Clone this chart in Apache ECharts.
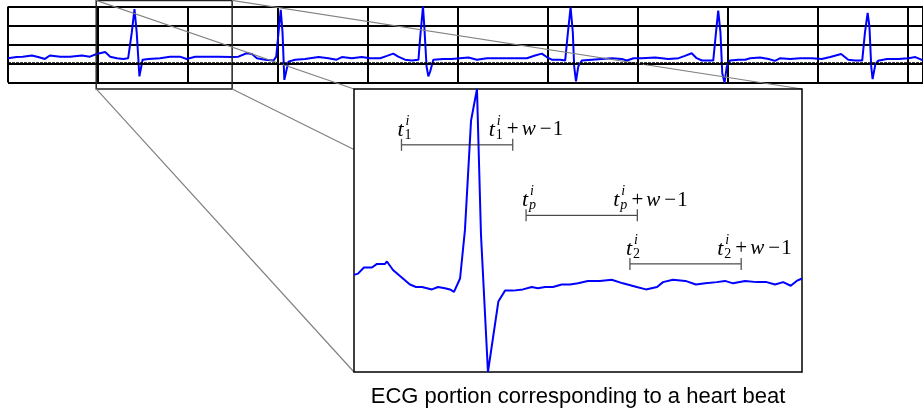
<!DOCTYPE html>
<html lang="en">
<head>
<meta charset="UTF-8">
<title>ECG beat zoom</title>
<script src="https://cdn.jsdelivr.net/npm/echarts@6/dist/echarts.min.js"></script>
<style>
    html, body { margin: 0; background: #fff; }
    #chart { width: 923px; height: 416px; }
</style>
</head>
<body>
<div id="chart"></div>
<script>
// ECG strip, time in ms, amplitude in mV
var stripTime = [0, 19, 33, 53, 67, 82, 93, 116, 138, 164, 182, 197, 216, 227, 242, 256, 267, 275, 281, 286,
    292, 299, 312, 338, 360, 382, 397, 416, 438, 467, 497, 512, 530, 542, 553, 571, 590, 596, 601, 606,
    610, 614, 623, 638, 660, 690, 712, 730, 742, 764, 786, 804, 827, 842, 856, 867, 882, 897, 912, 916,
    922, 925, 930, 934, 938, 945, 967, 986, 1004, 1023, 1042, 1064, 1086, 1116, 1153, 1171, 1186, 1197, 1208, 1227,
    1238, 1244, 1250, 1255, 1258, 1262, 1267, 1275, 1297, 1319, 1342, 1364, 1375, 1390, 1408, 1438, 1467, 1490, 1504, 1519,
    1530, 1542, 1567, 1573, 1578, 1583, 1587, 1592, 1597, 1604, 1623, 1638, 1649, 1671, 1690, 1704, 1716, 1738, 1760, 1786,
    1808, 1827, 1851, 1867, 1882, 1898, 1904, 1910, 1914, 1918, 1921, 1927, 1933, 1953, 1978, 2001, 2016, 2033];
var stripAmp = [0.14, 0.17, 0.18, 0.21, 0.17, 0.12, 0.21, 0.18, 0.18, 0.21, 0.18, 0.25, 0.30, 0.18, 0.14, 0.12, 0.14, 0.81, 1.43, 0.81,
    -0.34, 0.10, 0.12, 0.14, 0.18, 0.18, 0.12, 0.18, 0.18, 0.18, 0.17, 0.18, 0.27, 0.25, 0.14, 0.10, 0.08, 0.18, 0.81, 1.41,
    0.81, -0.43, 0.05, 0.10, 0.12, 0.17, 0.14, 0.10, 0.17, 0.14, 0.17, 0.14, 0.14, 0.20, 0.26, 0.18, 0.10, 0.08, 0.10, 0.71,
    1.50, 0.97, -0.08, -0.34, -0.21, 0.10, 0.12, 0.12, 0.14, 0.16, 0.10, 0.14, 0.14, 0.14, 0.14, 0.21, 0.26, 0.17, 0.10, 0.10,
    0.08, 0.81, 1.48, 0.81, -0.08, -0.47, -0.08, 0.08, 0.10, 0.12, 0.14, 0.12, 0.08, 0.14, 0.14, 0.16, 0.12, 0.14, 0.20, 0.27,
    0.14, 0.08, 0.08, 0.81, 1.39, 0.81, -0.25, -0.51, -0.08, 0.08, 0.10, 0.10, 0.14, 0.16, 0.12, 0.07, 0.14, 0.12, 0.14, 0.14,
    0.12, 0.17, 0.25, 0.10, 0.08, 0.08, 0.81, 1.33, 0.97, -0.08, -0.41, -0.03, 0.07, 0.12, 0.12, 0.14, 0.17, 0.08];

// the one beat shown enlarged (finer sampling)
var beatTime = [196, 198.7, 202.7, 208.1, 211.5, 216.9, 218.2, 222.3, 227.0, 233.7, 237.8, 241.8, 248.6, 252.6, 257.3, 260.7,
    263.4, 267.5, 270.8, 274.9, 278.9, 281.6, 286.3, 293.3, 297.8, 303.2, 309.9, 315.8, 320.0, 324.8, 330.1, 336.0,
    341.6, 347.0, 353.7, 361.8, 369.7, 377.3, 386.6, 392.8, 400.3, 404.3, 411.0, 419.4, 426.5, 432.8, 440.5, 446.1,
    451.5, 459.6, 467.5, 474.2, 479.8, 485.3, 490.4, 494.4, 498.0];
var beatAmp = [0.13, 0.14, 0.19, 0.19, 0.22, 0.22, 0.24, 0.17, 0.12, 0.05, 0.03, 0.03, 0.01, 0.03, 0.02, 0.01,
    -0.01, 0.10, 0.50, 1.40, 1.66, 0.46, -0.67, -0.09, 0.00, 0.00, 0.01, 0.03, 0.02, 0.03, 0.03, 0.05,
    0.05, 0.06, 0.08, 0.08, 0.09, 0.06, 0.03, 0.01, 0.03, 0.07, 0.09, 0.08, 0.05, 0.06, 0.07, 0.08,
    0.06, 0.08, 0.07, 0.07, 0.05, 0.07, 0.04, 0.08, 0.10];

// zoomed window on the strip
var zoomTime = [196, 498];
var zoomAmp = [-0.67, 1.66];

// windows t_1, t_p, t_2 of length w
var winStart = [228, 312, 382];
var winLevel = [1.2, 0.62, 0.22];
var winSub = ['1', 'p', '2'];
var winLen = 75;

var caption = 'ECG portion corresponding to a heart beat';

var stripData = stripTime.map(function (t, i) { return [t, stripAmp[i]]; });
var beatData = beatTime.map(function (t, i) { return [t, beatAmp[i]]; });
var winData = winStart.map(function (t, i) { return [t, winLevel[i]]; });

var SERIF = '"Liberation Serif", "DejaVu Serif", serif';

function glyph(str, x, y, size, italic, align) {
    return {
        type: 'text',
        x: x,
        y: y,
        style: {
            text: str,
            font: (italic ? 'italic ' : '') + size + 'px ' + SERIF,
            fill: '#000',
            align: align || 'left', textAlign: align || 'left',
            verticalAlign: 'middle', textVerticalAlign: 'middle'
        }
    };
}

// t with stacked index: x = left of t, y = middle of the line
function tSym(x, y, sub) {
    return [
        glyph('t', x, y, 22, true),
        glyph('i', x + 8, y - 9, 14, true),
        glyph(sub, x + 7, y + 5, 14, sub === 'p')
    ];
}

function tick(p) {
    return {
        type: 'line',
        shape: { x1: p[0], y1: p[1] - 6, x2: p[0], y2: p[1] + 6 },
        style: { stroke: '#555', lineWidth: 1.3 }
    };
}

function renderWindow(params, api) {
    var i = params.dataIndex;
    var p0 = api.coord([api.value(0), api.value(1)]);
    var p1 = api.coord([api.value(0) + winLen, api.value(1)]);
    var sub = winSub[i];
    var ty = p0[1] - 15;
    var kids = [
        {
            type: 'line',
            shape: { x1: p0[0], y1: p0[1], x2: p1[0], y2: p1[1] },
            style: { stroke: '#222', lineWidth: 1 }
        },
        tick(p0), tick(p1)
    ];
    kids = kids.concat(tSym(p0[0] - 4, ty, sub));
    kids = kids.concat(tSym(p1[0] - 24, ty, sub));
    kids.push(glyph('+', p1[0], ty, 21, false, 'center'));
    kids.push(glyph('w', p1[0] + 9, ty, 21, true));
    kids.push(glyph('\u2212', p1[0] + 27, ty, 21, false));
    kids.push(glyph('1', p1[0] + 40, ty, 21, false));
    return { type: 'group', children: kids };
}

var gridLine = { show: true, lineStyle: { color: '#000', width: 2 } };

var option = {
    animation: false,
    grid: [
        { left: 8, top: 6.5, width: 915, height: 76 },
        { left: 354, top: 89, width: 448, height: 283, show: true, backgroundColor: '#fff',
          borderColor: '#000', borderWidth: 1.5, z: 5 }
    ],
    xAxis: [
        { gridIndex: 0, type: 'value', min: 0, max: 2033, interval: 200,
          axisLine: { show: false }, axisTick: { show: false }, axisLabel: { show: false }, splitLine: gridLine },
        { gridIndex: 1, type: 'value', min: zoomTime[0], max: zoomTime[1], show: false }
    ],
    yAxis: [
        { gridIndex: 0, type: 'value', min: -0.5, max: 1.5, interval: 0.5,
          axisLine: { show: false }, axisTick: { show: false }, axisLabel: { show: false }, splitLine: gridLine },
        { gridIndex: 1, type: 'value', min: zoomAmp[0], max: zoomAmp[1], show: false }
    ],
    series: [
        {
            type: 'line', xAxisIndex: 0, yAxisIndex: 0, data: stripData,
            showSymbol: false, clip: false, z: 2,
            lineStyle: { color: '#0000ff', width: 2 },
            markLine: {
                silent: true, symbol: ['none', 'none'], label: { show: false },
                lineStyle: { color: '#000', type: [3, 1], width: 2.5 },
                data: [{ yAxis: 0 }]
            }
        },
        {
            type: 'line', xAxisIndex: 1, yAxisIndex: 1, data: beatData,
            showSymbol: false, clip: false, z: 6,
            lineStyle: { color: '#0000ff', width: 2 }
        },
        {
            type: 'custom', xAxisIndex: 1, yAxisIndex: 1, data: winData,
            renderItem: renderWindow, z: 7, clip: false
        }
    ]
};

var chart = echarts.init(document.getElementById('chart'));
chart.setOption(option);

// zoom box on the strip, the big box, and the connecting lines
var a = chart.convertToPixel({ gridIndex: 0 }, [zoomTime[0], zoomAmp[1]]);
var b = chart.convertToPixel({ gridIndex: 0 }, [zoomTime[1], zoomAmp[0]]);
var c = chart.convertToPixel({ gridIndex: 1 }, [zoomTime[0], zoomAmp[1]]);
var d = chart.convertToPixel({ gridIndex: 1 }, [zoomTime[1], zoomAmp[0]]);

function connector(x1, y1, x2, y2) {
    return { type: 'line', z: 4, silent: true,
             shape: { x1: x1, y1: y1, x2: x2, y2: y2 },
             style: { stroke: '#808080', lineWidth: 1.2 } };
}

chart.setOption({
    graphic: [
        { type: 'rect', z: 4, silent: true,
          shape: { x: a[0], y: a[1], width: b[0] - a[0], height: b[1] - a[1] },
          style: { fill: 'none', stroke: '#222', lineWidth: 1.5 } },
        connector(a[0], a[1], c[0], c[1]),
        connector(b[0], a[1], d[0], c[1]),
        connector(a[0], b[1], c[0], d[1]),
        connector(b[0], b[1], d[0], d[1]),
        { type: 'text', z: 8, x: (c[0] + d[0]) / 2, y: 397,
          style: { text: caption, font: '22px "Liberation Sans", Arial, sans-serif', fill: '#000',
                   align: 'center', textAlign: 'center', verticalAlign: 'middle', textVerticalAlign: 'middle' } }
    ]
});
</script>
</body>
</html>
